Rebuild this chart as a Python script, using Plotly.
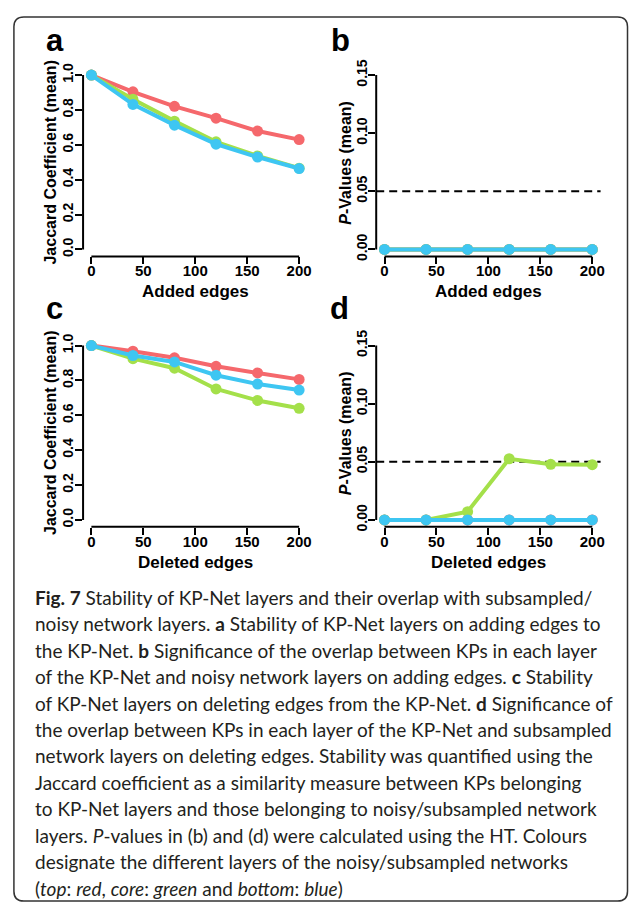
import plotly.graph_objects as go

W, H = 633, 906

# ---------------- data ----------------
edges = [0, 40, 80, 120, 160, 200]
x_ticks = [0, 50, 100, 150, 200]
jac_ticks = [0.0, 0.2, 0.4, 0.6, 0.8, 1.0]
jac_ticklabels = ["0.0", "0.2", "0.4", "0.6", "0.8", "1.0"]
p_ticks = [0.0, 0.05, 0.10, 0.15]
p_ticklabels = ["0.00", "0.05", "0.10", "0.15"]
p_threshold = 0.05

added_top = [1.0, 0.904, 0.821, 0.753, 0.679, 0.630]
added_core = [1.0, 0.862, 0.736, 0.617, 0.536, 0.466]
added_bottom = [1.0, 0.832, 0.713, 0.604, 0.530, 0.464]

added_p_top = [0.0, 0.0, 0.0, 0.0, 0.0, 0.0]
added_p_core = [0.0, 0.0, 0.0, 0.0, 0.0, 0.0]
added_p_bottom = [0.0, 0.0, 0.0, 0.0, 0.0, 0.0]

deleted_top = [1.0, 0.968, 0.930, 0.881, 0.843, 0.806]
deleted_core = [1.0, 0.925, 0.870, 0.751, 0.685, 0.640]
deleted_bottom = [1.0, 0.943, 0.906, 0.830, 0.779, 0.745]

deleted_p_top = [0.0, 0.0, 0.0, 0.0, 0.0, 0.0]
deleted_p_core = [0.0, 0.0, 0.0071, 0.0526, 0.0478, 0.0475]
deleted_p_bottom = [0.0, 0.0, 0.0, 0.0, 0.0, 0.0]

layer_names = ["top", "core", "bottom"]
layer_colors = ["#F5686C", "#A4E04A", "#3EC6F2"]

panel_letters = ["a", "b", "c", "d"]
x_titles = ["Added edges", "Added edges", "Deleted edges", "Deleted edges"]
y_titles = ["Jaccard Coefficient (mean)", "<i>P</i>-Values (mean)",
            "Jaccard Coefficient (mean)", "<i>P</i>-Values (mean)"]

caption_lines = [
    "<b>Fig. 7</b> Stability of KP-Net layers and their overlap with subsampled/",
    "noisy network layers. <b>a</b> Stability of KP-Net layers on adding edges to",
    "the KP-Net. <b>b</b> Significance of the overlap between KPs in each layer",
    "of the KP-Net and noisy network layers on adding edges. <b>c</b> Stability",
    "of KP-Net layers on deleting edges from the KP-Net. <b>d</b> Significance of",
    "the overlap between KPs in each layer of the KP-Net and subsampled",
    "network layers on deleting edges. Stability was quantified using the",
    "Jaccard coefficient as a similarity measure between KPs belonging",
    "to KP-Net layers and those belonging to noisy/subsampled network",
    "layers. <i>P</i>-values in (b) and (d) were calculated using the HT. Colours",
    "designate the different layers of the noisy/subsampled networks",
    "(<i>top</i>: <i>red</i>, <i>core</i>: <i>green</i> and <i>bottom</i>: <i>blue</i>)",
]

# ---------------- layout helpers (pixel -> paper) ----------------
def px_x(p):
    return p / W

def px_y(p):
    return 1 - p / H

col_px = [(83.6, 309.4), (378.6, 604.4)]
row_px = [(60.0, 251.0), (334.4, 525.4)]
ytitle_offset = [33, 31]

panels = [
    dict(series=[added_top, added_core, added_bottom], ticks=jac_ticks, labels=jac_ticklabels,
         rng=[-0.04, 1.04], col=0, row=0, thr=False),
    dict(series=[added_p_top, added_p_core, added_p_bottom], ticks=p_ticks, labels=p_ticklabels,
         rng=[-0.006, 0.156], col=1, row=0, thr=True),
    dict(series=[deleted_top, deleted_core, deleted_bottom], ticks=jac_ticks, labels=jac_ticklabels,
         rng=[-0.04, 1.04], col=0, row=1, thr=False),
    dict(series=[deleted_p_top, deleted_p_core, deleted_p_bottom], ticks=p_ticks, labels=p_ticklabels,
         rng=[-0.006, 0.156], col=1, row=1, thr=True),
]

fig = go.Figure()
shapes = []
annotations = []
tick_font = dict(family="Liberation Sans", size=15, color="black", weight="bold")
title_font = dict(family="Liberation Sans", size=17, color="black", weight="bold")
ytitle_font = dict(family="Liberation Sans", size=16, color="black", weight="bold")
letter_font = dict(family="Liberation Sans", size=31, color="black", weight="bold")
letter_px = [(55, 32), (343, 32), (55, 304), (342, 304)]

for i, p in enumerate(panels):
    n = "" if i == 0 else str(i + 1)
    xa, ya = "x" + n, "y" + n
    for name, vals, c in zip(layer_names, p["series"], layer_colors):
        fig.add_trace(go.Scatter(
            x=edges, y=vals, mode="lines+markers", name=name, showlegend=False,
            line=dict(color=c, width=4), marker=dict(color=c, size=11, line=dict(width=0)),
            xaxis=xa, yaxis=ya))
    cx, rx = col_px[p["col"]], row_px[p["row"]]
    fig.layout["xaxis" + n] = dict(
        domain=[px_x(cx[0]), px_x(cx[1])], range=[-8, 208], anchor=ya,
        tickvals=x_ticks, ticktext=[str(v) for v in x_ticks],
        showline=False, showgrid=False, zeroline=False,
        ticks="outside", ticklen=7, tickwidth=2, tickcolor="black",
        ticklabelstandoff=-6,
        tickfont=tick_font, fixedrange=True)
    fig.layout["yaxis" + n] = dict(
        domain=[px_y(rx[1]), px_y(rx[0])], range=p["rng"], anchor=xa,
        tickvals=p["ticks"], ticktext=p["labels"], tickangle=-90,
        showline=False, showgrid=False, zeroline=False,
        ticks="outside", ticklen=7, tickwidth=2, tickcolor="black",
        ticklabelstandoff=-4,
        tickfont=dict(tick_font, size=14), fixedrange=True)
    # R-style axis lines spanning first..last tick
    shapes.append(dict(type="line", xref=xa, yref=ya + " domain",
                       x0=x_ticks[0], x1=x_ticks[-1], y0=0, y1=0,
                       line=dict(color="black", width=2)))
    shapes.append(dict(type="line", xref=xa + " domain", yref=ya,
                       x0=0, x1=0, y0=p["ticks"][0], y1=p["ticks"][-1],
                       line=dict(color="black", width=2)))
    if p["thr"]:
        shapes.append(dict(type="line", xref=xa + " domain", yref=ya,
                           x0=0, x1=1, y0=p_threshold, y1=p_threshold, layer="below",
                           line=dict(color="black", width=2, dash="8px,5px")))
    # axis titles
    annotations.append(dict(text=x_titles[i], xref=xa, yref="paper",
                            x=(x_ticks[0] + x_ticks[-1]) / 2, y=px_y(rx[1] + 36),
                            xanchor="center", yanchor="middle", showarrow=False, font=title_font))
    annotations.append(dict(text=y_titles[i], xref="paper", yref=ya + " domain",
                            x=px_x(cx[0] - ytitle_offset[p["col"]]), y=0.5, textangle=-90,
                            xanchor="center", yanchor="middle", showarrow=False, font=ytitle_font))
    lx, ly = letter_px[i]
    annotations.append(dict(text=panel_letters[i], xref="paper", yref="paper",
                            x=px_x(lx), y=px_y(ly), xanchor="center", yanchor="middle",
                            showarrow=False, font=letter_font))

# caption
for k, line in enumerate(caption_lines):
    annotations.append(dict(text=line, xref="paper", yref="paper",
                            x=px_x(33), y=px_y(597 + k * 26.8), xanchor="left", yanchor="middle",
                            align="left", showarrow=False,
                            font=dict(family="Lato", size=19, color="#231F20")))

# rounded border
x0, x1, y0, y1, r = 14, 631.5, 8, 905, 10
def P(x, y):
    return f"{px_x(x):.5f},{px_y(y):.5f}"
path = (f"M {P(x0 + r, y0)} L {P(x1 - r, y0)} Q {P(x1, y0)} {P(x1, y0 + r)} "
        f"L {P(x1, y1 - r)} Q {P(x1, y1)} {P(x1 - r, y1)} "
        f"L {P(x0 + r, y1)} Q {P(x0, y1)} {P(x0, y1 - r)} "
        f"L {P(x0, y0 + r)} Q {P(x0, y0)} {P(x0 + r, y0)} Z")
shapes.append(dict(type="path", xref="paper", yref="paper", path=path,
                   line=dict(color="#333333", width=1.5)))

fig.update_layout(
    width=W, height=H, margin=dict(l=0, r=0, t=0, b=0),
    paper_bgcolor="white", plot_bgcolor="white",
    shapes=shapes, annotations=annotations, showlegend=False,
)

fig.write_html("out.html")
